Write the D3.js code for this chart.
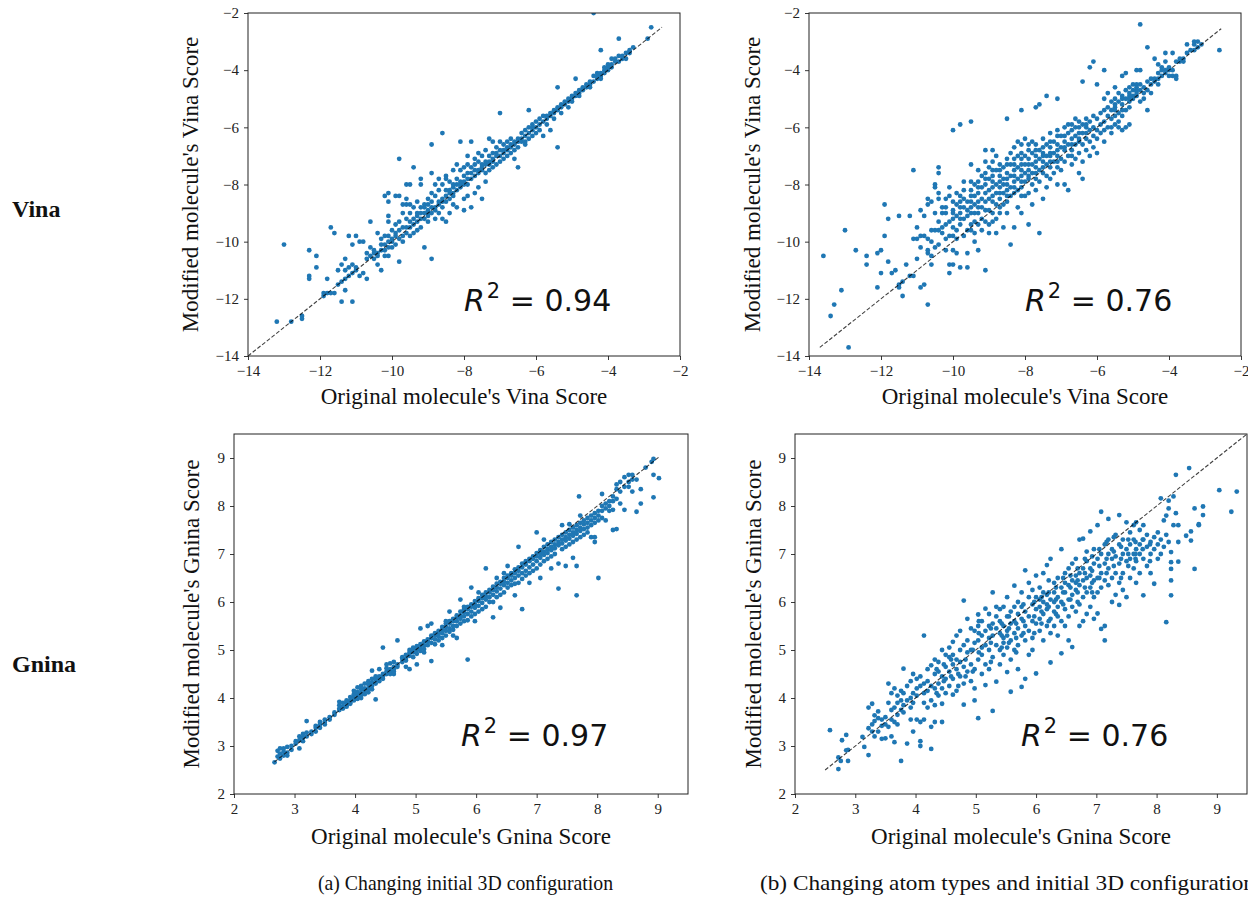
<!DOCTYPE html>
<html>
<head>
<meta charset="utf-8">
<script src="https://cdn.jsdelivr.net/npm/d3@7/dist/d3.min.js"></script>
<style>
    body { margin: 0; background: #fff; }
    svg text { fill: #111; }
</style>
</head>
<body>
<svg id="fig" width="1248" height="903"></svg>
<script>
// ---- axis ticks / labels ----
const vinaTicks = [-14, -12, -10, -8, -6, -4, -2]
const gninaTicks = [2, 3, 4, 5, 6, 7, 8, 9]
const rowLabels = ['Vina', 'Gnina']
const captions = ['(a) Changing initial 3D configuration', '(b) Changing atom types and initial 3D configuration']
const r2Values = ['0.94', '0.76', '0.97', '0.76']

// y = x reference line, [start, end]
const diagVinaA = [-14, -2.5]
const diagVinaB = [-13.7, -2.55]
const diagGninaA = [2.67, 9.03]
const diagGninaB = [2.5, 9.5]

// scatter points, each row = [original score, modified score, modified score, ...]
const vinaA = [
    [-13.2, -12.8], [-13.0, -10.1], [-12.8, -12.8], [-12.5, -12.6, -12.7],
    [-12.3, -10.3, -11.2, -11.3], [-12.1, -10.5, -10.9], [-11.9, -11.8, -11.9],
    [-11.8, -11.3, -11.8], [-11.7, -9.5, -11.8], [-11.6, -9.7, -11.8],
    [-11.5, -11.0, -11.5], [-11.4, -10.8, -12.1, -11.4], [-11.3, -10.6, -11.0, -11.7, -11.3],
    [-11.2, -9.8, -11.2, -10.9], [-11.1, -10.1, -10.8, -12.1, -11.1], [-11.0, -9.8, -11.0, -10.9],
    [-10.9, -11.2, -10.0], [-10.8, -10.0, -11.1], [-10.7, -10.6, -10.4, -11.3],
    [-10.6, -9.3, -10.5, -10.2], [-10.5, -10.3, -10.6, -10.4], [-10.4, -9.7, -10.8, -10.4, -10.5],
    [-10.3, -10.1, -11.0, -10.3, -9.9], [-10.2, -8.4, -9.8, -10.3, -10.5, -10.1],
    [-10.1, -8.3, -8.6, -9.1, -9.3, -9.8, -10.0, -10.2, -10.5], [-10.0, -9.9, -10.2, -9.6, -10.0],
    [-9.9, -8.4, -9.4, -9.8, -10.1, -9.7], [-9.8, -7.1, -8.4, -9.3, -9.6, -9.9, -10.7],
    [-9.7, -9.0, -9.5, -9.8, -10.0, -8.7], [-9.6, -8.0, -8.5, -8.7, -9.2, -9.5, -9.7],
    [-9.5, -8.0, -8.7, -9.0, -9.3, -9.5, -9.8], [-9.4, -7.4, -8.8, -9.2, -9.4, -9.7],
    [-9.3, -8.6, -9.0, -9.1, -9.3, -9.6], [-9.2, -7.8, -8.0, -8.8, -9.0, -9.2, -9.5],
    [-9.1, -8.7, -9.0, -9.2, -10.2, -8.8], [-9.0, -8.5, -8.7, -8.9, -9.0, -9.1, -9.3],
    [-8.9, -6.6, -7.6, -8.3, -8.8, -9.0, -10.6, -8.6], [-8.8, -8.0, -8.4, -8.8, -8.9, -9.2],
    [-8.7, -7.8, -8.2, -8.6, -8.7, -9.0], [-8.6, -6.2, -8.0, -8.5, -8.6, -8.8, -9.2],
    [-8.5, -7.7, -7.8, -8.2, -8.4, -8.6, -9.3], [-8.4, -7.9, -8.2, -8.3, -8.5, -9.0],
    [-8.3, -7.5, -8.0, -8.1, -8.3, -8.4, -8.7], [-8.2, -7.3, -7.8, -8.0, -8.2, -8.8],
    [-8.1, -6.5, -7.5, -7.9, -8.0, -8.1], [-8.0, -7.4, -7.7, -7.9, -8.0, -8.5, -8.9],
    [-7.9, -7.0, -7.3, -7.6, -7.8, -8.0, -8.4], [-7.8, -6.5, -7.4, -7.6, -7.8, -8.8],
    [-7.7, -7.1, -7.3, -7.5, -7.7, -8.3], [-7.6, -6.9, -7.2, -7.5, -7.6, -8.1],
    [-7.5, -7.0, -7.3, -7.4, -7.5, -8.5], [-7.4, -6.8, -7.2, -7.3, -7.6, -7.9],
    [-7.3, -6.4, -7.0, -7.2, -7.3, -7.5], [-7.2, -6.5, -6.9, -7.1, -7.2, -7.4],
    [-7.1, -6.7, -6.9, -7.0, -7.3], [-7.0, -5.5, -6.5, -6.8, -7.0, -7.2],
    [-6.9, -6.6, -6.8, -6.9, -7.1], [-6.8, -6.5, -6.7, -6.8, -7.0],
    [-6.7, -6.4, -6.6, -6.7, -6.9], [-6.6, -6.5, -6.6, -6.8, -7.1],
    [-6.5, -6.4, -6.5, -7.4, -6.7], [-6.4, -6.2, -6.4, -6.5], [-6.3, -6.1, -6.3, -6.5, -6.6],
    [-6.2, -5.4, -6.0, -6.2, -6.4], [-6.1, -5.9, -6.0, -6.1, -6.3], [-6.0, -5.8, -6.0, -6.2],
    [-5.9, -5.7, -5.9, -6.1], [-5.8, -5.6, -5.8, -6.3], [-5.7, -5.6, -5.7, -5.9],
    [-5.6, -5.5, -5.6, -6.1], [-5.5, -5.4, -5.5, -5.7], [-5.4, -4.6, -5.3, -5.4, -6.7],
    [-5.3, -5.2, -5.3, -5.5], [-5.2, -5.1, -5.2], [-5.1, -5.0, -5.1, -5.3], [-5.0, -4.9, -5.0, -5.1],
    [-4.9, -4.3, -4.8, -4.9], [-4.8, -4.7, -4.8, -4.9], [-4.7, -4.6, -4.7], [-4.6, -4.5, -4.6],
    [-4.5, -4.5, -4.4, -4.6], [-4.4, -2.0, -4.2, -4.4], [-4.3, -4.1, -4.3, -4.2],
    [-4.2, -3.3, -4.1, -4.2, -4.3], [-4.1, -3.9, -4.0, -4.1], [-4.0, -3.8, -3.9, -4.0],
    [-3.9, -3.6, -3.8, -3.9], [-3.8, -3.6, -3.7], [-3.7, -2.9, -3.5, -3.7], [-3.6, -3.5, -3.6],
    [-3.5, -3.4, -3.6], [-3.4, -3.3, -3.4], [-3.3, -3.2], [-2.9, -2.9], [-2.8, -2.5],
]

const vinaB = [
    [-13.6, -10.5], [-13.4, -12.6], [-13.3, -12.2], [-13.1, -11.7], [-13.0, -9.6], [-12.9, -13.7],
    [-12.7, -10.3], [-12.4, -10.5, -10.8], [-12.1, -10.4, -11.6], [-12.0, -10.3, -11.1],
    [-11.9, -8.7, -9.8], [-11.8, -9.2, -10.7], [-11.7, -11.1], [-11.6, -11.0],
    [-11.5, -9.1, -11.6, -11.5], [-11.4, -11.4, -11.9], [-11.3, -10.8], [-11.2, -9.1, -11.2],
    [-11.1, -7.5, -9.9, -11.2], [-11.0, -9.5, -9.9, -10.6], [-10.9, -8.9, -9.8, -10.2, -11.6],
    [-10.8, -9.1, -9.8, -11.5], [-10.7, -8.5, -8.7, -9.9, -10.3, -10.4, -12.2],
    [-10.6, -8.6, -9.6, -10.0, -10.5, -10.8], [-10.5, -8.0, -8.1, -9.0, -9.6, -10.2],
    [-10.4, -7.4, -7.6, -8.3, -8.5, -9.3, -9.6, -10.1], [-10.3, -8.8, -9.0, -9.5, -9.7],
    [-10.2, -8.5, -9.0, -9.9, -10.3, -8.8, -9.4], [-10.1, -8.1, -8.4, -9.3, -9.8, -10.8, -11.1],
    [-10.0, -6.1, -8.6, -8.9, -9.2, -9.5, -10.3, -10.8, -9.0, -9.8], [-9.9, -8.3, -8.7, -9.1, -9.6, -9.9, -10.4],
    [-9.8, -5.9, -8.4, -8.6, -9.0, -9.4, -10.9, -8.8, -9.2], [-9.7, -7.9, -8.2, -8.5, -8.8, -9.2, -9.8],
    [-9.6, -8.6, -8.9, -9.1, -9.6, -10.4, -10.9], [-9.5, -5.8, -7.3, -7.9, -8.2, -8.6, -9.0, -9.4, -8.4, -8.8, -9.6],
    [-9.4, -8.0, -8.4, -8.7, -9.0, -9.3, -9.7, -10.0], [-9.3, -7.5, -7.9, -8.3, -8.6, -9.0, -10.3, -8.1, -8.8, -9.4],
    [-9.2, -7.7, -8.1, -8.5, -8.8, -9.2, -9.6], [-9.1, -6.8, -7.2, -7.6, -8.0, -8.3, -8.9, -11.0, -7.8, -8.6, -9.3],
    [-9.0, -7.4, -7.8, -8.2, -8.5, -8.9, -9.4, -9.7], [-8.9, -6.8, -7.2, -7.7, -8.1, -8.6, -9.0, -7.5, -7.9, -8.4, -9.3],
    [-8.8, -7.0, -7.5, -8.0, -8.3, -8.7, -9.2, -9.7], [-8.7, -7.3, -7.7, -8.1, -8.5, -9.0, -7.5, -7.9, -8.3, -8.8],
    [-8.6, -7.4, -7.8, -8.0, -8.3, -8.7, -9.5], [-8.5, -5.7, -7.3, -7.6, -8.0, -8.2, -8.6, -7.1, -7.8, -8.4, -9.0],
    [-8.4, -6.9, -7.3, -7.7, -8.1, -8.4, -10.1], [-8.3, -6.7, -7.1, -7.5, -7.9, -8.3, -9.5, -7.3, -7.7, -8.1],
    [-8.2, -6.5, -7.0, -7.4, -7.8, -8.2, -8.8], [-8.1, -5.4, -6.6, -6.9, -7.3, -7.7, -8.1, -9.0, -7.1, -7.5, -7.9, -8.4],
    [-8.0, -6.4, -7.0, -7.3, -7.6, -7.9, -8.4], [-7.9, -6.8, -7.1, -7.5, -7.8, -8.3, -9.4, -6.6, -7.3, -7.7],
    [-7.8, -6.5, -6.9, -7.3, -7.6, -8.0, -8.7], [-7.7, -5.3, -6.6, -7.0, -7.4, -7.8, -8.2, -6.8, -7.2, -7.6],
    [-7.6, -5.2, -6.8, -7.1, -7.5, -7.9, -9.7], [-7.5, -6.4, -6.9, -7.2, -7.6, -8.5, -6.7, -7.0, -7.4],
    [-7.4, -4.9, -6.6, -7.0, -7.3, -7.7, -8.1], [-7.3, -6.2, -6.7, -7.0, -7.4, -7.8, -6.5, -6.9, -7.2],
    [-7.2, -6.5, -6.9, -7.2, -7.6], [-7.1, -5.0, -6.1, -6.6, -7.0, -7.4, -8.0, -6.3, -6.8, -7.2],
    [-7.0, -6.3, -6.7, -7.1, -7.5], [-6.9, -6.0, -6.5, -6.8, -7.2, -8.0, -6.3, -6.7],
    [-6.8, -5.9, -6.2, -6.6, -7.0, -8.2], [-6.7, -6.1, -6.4, -6.8, -7.3, -5.9, -6.6, -7.0],
    [-6.6, -5.7, -6.0, -6.3, -6.6, -7.1], [-6.5, -5.8, -6.2, -6.5, -6.9, -7.6, -6.0, -6.4],
    [-6.4, -4.4, -5.9, -6.2, -6.6, -7.2, -7.8], [-6.3, -5.7, -6.0, -6.4, -6.8, -5.9, -6.2],
    [-6.2, -3.9, -5.8, -6.1, -6.5, -7.0], [-6.1, -3.7, -5.6, -6.0, -6.3, -6.7],
    [-6.0, -4.5, -5.7, -6.1, -6.4, -6.9], [-5.9, -5.5, -5.9, -6.2],
    [-5.8, -4.0, -5.0, -5.4, -5.8, -6.1, -6.5], [-5.7, -4.8, -5.3, -5.6, -6.0],
    [-5.6, -5.1, -5.4, -5.7, -6.0, -6.2], [-5.5, -4.6, -5.0, -5.3, -5.6, -5.9, -5.2, -5.4],
    [-5.4, -4.8, -5.1, -5.5, -5.8, -6.0], [-5.3, -4.2, -4.9, -5.2, -5.6, -6.1, -5.0, -5.4],
    [-5.2, -4.1, -4.7, -5.0, -5.4, -6.0], [-5.1, -4.6, -4.9, -5.1, -5.3, -5.9, -4.8, -5.0],
    [-5.0, -4.5, -4.7, -4.9, -5.0], [-4.9, -4.0, -4.5, -4.7, -4.8, -4.6, -4.9],
    [-4.8, -2.4, -4.0, -4.5, -4.7, -5.1], [-4.7, -4.6, -4.8, -5.0], [-4.6, -3.2, -4.4, -4.7, -5.4],
    [-4.5, -4.3, -4.5, -4.8], [-4.4, -3.6, -4.3, -4.4], [-4.3, -3.8, -4.1, -4.3, -4.5],
    [-4.2, -3.9, -4.0, -4.2], [-4.1, -3.4, -3.7, -4.0, -4.1], [-4.0, -3.9, -4.0, -4.2],
    [-3.9, -3.4, -4.0, -4.2], [-3.8, -3.7, -4.2, -4.3], [-3.7, -3.6, -3.7], [-3.6, -3.6, -3.7],
    [-3.5, -3.1, -3.4], [-3.4, -3.3], [-3.3, -3.0, -3.1, -3.3], [-3.2, -3.0, -3.2], [-3.1, -3.1],
    [-2.6, -3.3],
]

const gninaA = [
    [2.67, 2.66], [2.72, 2.78, 2.9], [2.76, 2.84, 2.95, 2.74], [2.82, 2.80, 2.88, 2.95],
    [2.88, 2.86, 2.98, 2.80], [2.95, 2.92, 3.0], [3.02, 3.05, 3.1], [3.08, 2.95, 3.2, 3.12],
    [3.14, 3.18, 3.25, 3.1], [3.2, 3.52, 3.2, 3.28], [3.28, 3.3, 3.25], [3.35, 3.38, 3.42, 3.3],
    [3.42, 3.45, 3.5, 3.38], [3.5, 3.5, 3.55, 3.45], [3.58, 3.55, 3.6], [3.66, 3.65, 3.7],
    [3.74, 3.78, 3.85, 3.92, 3.75], [3.8, 3.82, 3.9, 3.78], [3.86, 3.9, 3.95, 3.85, 3.82],
    [3.92, 3.95, 4.02, 3.9, 3.88], [3.98, 4.0, 4.08, 4.15, 3.95], [4.04, 4.05, 4.12, 4.22, 3.98, 4.1],
    [4.1, 4.1, 4.18, 4.25, 4.05, 4.0], [4.16, 4.15, 4.2, 4.3, 4.08], [4.22, 4.2, 4.28, 4.12, 4.35],
    [4.28, 4.25, 4.32, 4.4, 4.18, 4.57], [4.34, 4.3, 4.38, 3.97, 4.45], [4.4, 4.4, 4.45, 4.35, 4.6],
    [4.46, 4.45, 5.05, 4.5, 4.4], [4.52, 4.5, 4.55, 4.62, 4.7], [4.58, 4.55, 4.6, 4.72, 4.5],
    [4.64, 4.6, 4.65, 4.75, 4.55, 4.5], [4.7, 4.65, 5.2, 4.7], [4.78, 4.75, 4.82, 4.85],
    [4.84, 4.82, 4.9, 4.78, 4.65], [4.9, 4.88, 4.95, 5.0, 4.6], [4.96, 4.95, 5.0, 5.05, 4.85],
    [5.02, 5.0, 5.08, 4.92, 4.7], [5.08, 5.05, 5.12, 4.98, 5.45], [5.14, 5.1, 5.18, 5.02, 4.95],
    [5.2, 5.18, 5.22, 5.1, 5.5], [5.26, 5.25, 5.3, 5.15, 5.55, 4.77], [5.32, 5.3, 5.35, 5.22, 5.12],
    [5.38, 5.35, 5.4, 5.28, 5.2], [5.44, 5.42, 5.48, 5.35, 5.25, 5.1], [5.5, 5.48, 5.55, 5.4, 5.3, 5.6],
    [5.56, 5.55, 5.6, 5.45, 5.38, 5.8], [5.62, 5.6, 5.65, 5.5, 5.42, 5.3], [5.68, 5.68, 5.72, 5.6, 5.5, 5.25],
    [5.74, 5.72, 5.8, 5.65, 5.55, 6.05], [5.8, 5.78, 5.85, 5.7, 5.6, 5.9], [5.86, 5.85, 5.9, 5.75, 5.62, 4.8],
    [5.92, 5.9, 5.95, 5.8, 5.7, 6.3], [5.98, 5.95, 6.02, 5.88, 5.75, 5.6], [6.04, 6.02, 6.08, 5.92, 5.8, 6.2],
    [6.1, 6.08, 6.15, 5.98, 5.85], [6.16, 6.12, 6.2, 6.05, 5.9, 6.7], [6.22, 6.2, 6.25, 6.1, 6.0],
    [6.28, 6.25, 6.32, 6.15, 5.68, 6.0], [6.34, 6.3, 6.38, 6.22, 6.1, 6.5], [6.4, 6.38, 6.42, 6.28, 6.15, 5.88],
    [6.46, 6.42, 6.5, 6.35, 6.2, 6.6], [6.52, 6.5, 6.55, 6.4, 6.3, 6.75], [6.58, 6.55, 6.6, 6.45, 6.35],
    [6.64, 6.6, 6.68, 6.5, 6.38, 6.14], [6.7, 6.65, 6.72, 6.55, 6.4, 7.15], [6.76, 6.72, 6.8, 6.6, 6.48, 5.85],
    [6.82, 6.78, 6.85, 6.65, 6.55], [6.88, 6.85, 6.9, 6.72, 6.6, 6.4], [6.94, 6.9, 6.95, 6.78, 6.65],
    [7.0, 6.95, 7.02, 6.85, 6.7, 7.45], [7.06, 7.0, 7.08, 6.92, 6.78, 6.5], [7.12, 7.05, 7.15, 6.98, 6.85, 7.3],
    [7.18, 7.1, 7.2, 7.02, 6.9], [7.24, 7.15, 7.25, 7.08, 6.95, 6.7], [7.3, 7.2, 7.3, 7.12, 7.0],
    [7.36, 7.25, 7.35, 7.18, 6.8, 6.28], [7.42, 7.3, 7.4, 7.22, 7.1, 7.6], [7.48, 7.35, 7.45, 7.28, 7.15, 6.75],
    [7.54, 7.4, 7.5, 7.32, 7.2, 7.62], [7.6, 7.45, 7.55, 7.38, 7.25, 6.92], [7.66, 7.5, 7.6, 7.42, 7.3, 6.75, 6.14],
    [7.72, 7.55, 7.65, 7.48, 7.35, 7.8], [7.7, 8.2], [7.78, 7.62, 7.7, 7.52, 7.4], [7.84, 7.65, 7.75, 7.55, 7.45],
    [7.9, 7.7, 7.8, 7.6, 7.35], [7.96, 7.75, 7.85, 7.65, 7.35, 7.25], [8.02, 7.8, 7.9, 7.7, 6.5],
    [8.08, 7.9, 8.0, 8.25, 7.75], [8.14, 7.95, 8.05, 7.7], [8.2, 8.0, 8.1, 7.9], [8.26, 8.1, 8.2, 7.5, 7.92],
    [8.32, 8.15, 8.35, 8.45, 7.52], [8.38, 8.3, 8.5, 8.05], [8.45, 8.4, 8.6, 7.92], [8.52, 8.5, 8.65, 8.4],
    [8.58, 8.55, 8.65, 8.3], [8.65, 7.88, 8.55], [8.72, 8.35, 8.05], [8.8, 8.8], [8.9, 8.92],
    [8.93, 8.98, 8.65, 8.18], [9.02, 8.58],
]

const gninaB = [
    [2.58, 3.33], [2.72, 2.76, 2.52], [2.76, 2.69], [2.78, 3.12], [2.85, 3.23, 2.91], [2.88, 2.69, 2.92],
    [3.12, 3.19], [3.15, 2.98], [3.22, 2.81, 3.37, 3.8], [3.28, 3.45, 3.3, 3.88], [3.32, 3.52, 3.64, 3.2],
    [3.38, 3.72, 3.3, 3.58], [3.44, 3.42, 3.55, 3.15], [3.5, 3.16, 3.45, 3.6], [3.55, 4.3, 3.4, 3.9],
    [3.6, 3.55, 3.75, 3.2, 4.1], [3.65, 3.5, 3.08, 3.8, 4.2], [3.7, 3.9, 4.05, 3.45, 3.65],
    [3.76, 2.69, 3.75, 4.15, 3.95], [3.8, 4.61, 4.1, 3.7, 3.85], [3.86, 3.05, 3.95, 4.25],
    [3.92, 3.55, 3.8, 4.35, 4.0], [3.96, 3.3, 4.5, 4.1, 3.9], [4.02, 4.4, 4.2, 3.55, 4.05],
    [4.08, 3.0, 3.1, 4.25, 3.5, 4.45], [4.14, 5.3, 4.3, 3.9, 3.55, 4.1], [4.2, 4.15, 4.6, 4.35, 3.8],
    [4.26, 2.94, 3.4, 4.25, 4.68, 3.95], [4.32, 4.5, 4.8, 4.2, 3.85, 3.5], [4.38, 4.55, 4.3, 4.05, 4.75],
    [4.44, 5.0, 4.45, 4.2, 3.88, 3.5], [4.5, 4.65, 4.4, 4.1, 4.9], [4.56, 4.55, 4.85, 4.25, 5.05],
    [4.62, 5.17, 4.7, 4.4, 4.07, 4.9], [4.68, 4.6, 5.3, 4.15, 4.8], [4.74, 4.75, 5.0, 4.45, 5.4],
    [4.8, 6.03, 5.1, 4.3, 4.65, 3.86], [4.86, 5.65, 4.95, 4.55, 5.2], [4.92, 5.45, 5.0, 4.7, 4.35],
    [4.98, 5.4, 4.6, 5.15, 4.2, 3.95], [5.04, 5.74, 5.2, 4.8, 3.58, 5.5], [5.1, 5.3, 4.9, 4.5, 5.6, 5.05],
    [5.16, 5.86, 5.1, 4.7, 4.27, 5.4], [5.22, 5.5, 5.0, 5.25, 4.6, 5.75], [5.28, 6.2, 5.3, 4.85, 5.55, 3.73],
    [5.34, 5.45, 5.1, 4.34, 5.7, 5.9], [5.4, 5.35, 5.6, 5.0, 4.7, 5.85], [5.46, 5.25, 5.5, 5.9, 4.9, 5.15],
    [5.52, 4.54, 5.4, 5.7, 5.05, 6.1, 5.3], [5.58, 5.2, 5.55, 5.8, 4.8, 4.13], [5.64, 6.34, 5.35, 5.6, 5.0, 5.9],
    [5.7, 5.1, 5.45, 5.75, 6.0, 4.6], [5.76, 4.23, 5.3, 5.65, 5.9, 6.2], [5.82, 6.66, 4.4, 5.5, 5.8, 5.2],
    [5.88, 6.1, 5.7, 5.4, 6.4, 4.9], [5.94, 5.25, 5.6, 5.95, 6.25, 5.0], [6.0, 6.55, 5.85, 5.55, 4.51, 6.1],
    [6.06, 5.9, 5.4, 6.05, 6.3, 5.65], [6.12, 6.6, 5.75, 6.0, 5.2, 6.2], [6.18, 6.77, 5.5, 5.85, 6.15, 5.95],
    [6.24, 6.9, 4.74, 5.65, 6.05, 5.35], [6.3, 6.4, 6.0, 5.8, 5.5, 6.2], [6.36, 6.5, 6.1, 5.9, 5.3, 5.7],
    [6.42, 7.1, 6.3, 6.0, 4.93, 5.6], [6.48, 6.6, 6.2, 5.85, 5.5, 6.4], [6.54, 6.7, 6.35, 6.05, 5.7, 5.2],
    [6.6, 6.45, 6.15, 5.06, 6.8, 5.9], [6.66, 6.9, 6.55, 6.25, 5.8, 6.4], [6.72, 7.3, 6.6, 6.35, 5.95, 5.5],
    [6.78, 7.32, 6.7, 6.45, 6.1, 5.6], [6.84, 6.85, 6.5, 6.2, 5.75, 7.05], [6.9, 7.47, 6.7, 6.3, 5.9, 6.55],
    [6.96, 6.8, 6.45, 6.1, 7.1, 5.65], [7.02, 7.6, 6.9, 6.5, 5.76, 6.2], [7.08, 7.88, 7.0, 6.6, 6.3, 5.44],
    [7.14, 5.2, 6.8, 7.2, 6.45, 5.5], [7.2, 7.73, 7.0, 6.7, 6.35, 7.3], [7.26, 6.9, 7.1, 6.5, 6.0],
    [7.32, 7.4, 6.95, 6.6, 6.15], [7.38, 7.81, 5.94, 7.2, 6.8, 6.4], [7.44, 7.0, 7.3, 6.6, 6.25],
    [7.5, 7.66, 6.1, 7.1, 6.85], [7.56, 7.2, 6.9, 7.45, 6.5], [7.62, 7.6, 7.0, 6.7, 7.3],
    [7.66, 7.66, 7.1, 6.85, 6.4], [7.72, 7.5, 7.2, 6.6, 7.0], [7.78, 6.14, 7.3, 6.9, 7.6],
    [7.84, 7.15, 6.75, 7.4], [7.9, 7.25, 7.0, 6.6], [7.96, 7.35, 6.38, 7.1], [8.02, 7.2, 6.9, 7.45],
    [8.07, 8.16, 7.3, 7.0], [8.12, 7.7, 7.15], [8.16, 5.58, 7.4, 7.8], [8.2, 8.11, 7.95, 7.25],
    [8.24, 7.04, 6.83, 6.69, 6.45, 6.14], [8.28, 7.6, 8.2], [8.32, 8.65, 7.85], [8.36, 7.25, 6.84, 7.6],
    [8.49, 7.38], [8.54, 8.79], [8.57, 7.47, 7.28], [8.63, 6.69, 7.95], [8.7, 7.6, 7.62],
    [8.77, 7.99, 7.81], [9.04, 8.33], [9.24, 7.88], [9.33, 8.3],
    // dense core
    [4.35, 4.6, 4.1], [4.47, 4.35, 4.7], [4.59, 4.45, 4.8], [4.71, 4.5, 4.25], [4.83, 4.8, 4.45],
    [4.95, 4.55, 5.0], [5.05, 5.35, 4.95, 5.6], [5.25, 5.15, 5.45, 4.75], [5.43, 5.3, 5.05, 5.55],
    [5.55, 5.45, 5.15, 5.7], [5.67, 5.55, 5.25, 4.95], [5.79, 5.6, 5.95, 5.35], [5.97, 5.7, 6.0, 5.35],
    [6.09, 5.8, 6.1, 5.55], [6.21, 5.9, 6.2, 5.6, 6.45], [6.33, 6.05, 5.75, 6.3], [6.45, 6.2, 5.95, 6.5],
    [6.57, 6.3, 6.05, 6.55], [6.69, 6.45, 6.2, 6.7, 6.0], [6.81, 6.6, 6.3, 6.9], [6.93, 6.65, 6.4, 6.95, 6.2],
    [7.05, 6.75, 6.5, 7.1], [7.17, 6.9, 6.6, 7.25], [7.29, 7.05, 6.75, 7.35], [7.41, 7.15, 6.9, 6.5],
    [7.53, 7.3, 7.0, 6.75], [7.65, 7.25, 7.0, 6.9], [7.77, 7.1, 7.3], [7.89, 7.2, 6.85],
]

const toPoints = rows => rows.flatMap(r => r.slice(1).map(y => [r[0], y]))

// ---- layout ----
const svg = d3.select('#fig')
const serif = '"Liberation Serif", "Times New Roman", serif'

const panels = [
    { rows: vinaA, ticks: vinaTicks, dom: [-14, -2], diag: diagVinaA, r2: r2Values[0], name: 'Vina',
        left: 248, right: 680, top: 13, bottom: 356, ylabOff: 50, xlabY: 404 },
    { rows: vinaB, ticks: vinaTicks, dom: [-14, -2], diag: diagVinaB, r2: r2Values[1], name: 'Vina',
        left: 809, right: 1241, top: 13, bottom: 356, ylabOff: 49, xlabY: 404 },
    { rows: gninaA, ticks: gninaTicks, dom: [2, 9.5], diag: diagGninaA, r2: r2Values[2], name: 'Gnina',
        left: 234, right: 688, top: 434, bottom: 794, ylabOff: 35, xlabY: 844 },
    { rows: gninaB, ticks: gninaTicks, dom: [2, 9.5], diag: diagGninaB, r2: r2Values[3], name: 'Gnina',
        left: 795, right: 1247, top: 434, bottom: 794, ylabOff: 34, xlabY: 844 },
]

panels.forEach((p, i) => {
    const x = d3.scaleLinear().domain(p.dom).range([p.left, p.right])
    const y = d3.scaleLinear().domain(p.dom).range([p.bottom, p.top])
    const g = svg.append('g')

    const clipId = `clip${i}`
    g.append('clipPath').attr('id', clipId)
        .append('rect')
        .attr('x', p.left).attr('y', p.top)
        .attr('width', p.right - p.left).attr('height', p.bottom - p.top)

    // 点
    g.append('g').attr('clip-path', `url(#${clipId})`)
        .selectAll('circle')
        .data(toPoints(p.rows))
        .join('circle')
        .attr('cx', d => x(d[0]))
        .attr('cy', d => y(d[1]))
        .attr('r', 2.4)
        .attr('fill', '#1f77b4')

    // 对角虚线
    g.append('line')
        .attr('clip-path', `url(#${clipId})`)
        .attr('x1', x(p.diag[0])).attr('y1', y(p.diag[0]))
        .attr('x2', x(p.diag[1])).attr('y2', y(p.diag[1]))
        .attr('stroke', '#000').attr('stroke-opacity', 0.75)
        .attr('stroke-width', 1.1).attr('stroke-dasharray', '4,2')

    // 坐标轴
    const fmt = d3.format('d')
    const xAxis = g.append('g')
        .attr('transform', `translate(0,${p.bottom})`)
        .call(d3.axisBottom(x).tickValues(p.ticks).tickFormat(fmt).tickSize(4).tickPadding(5))
    const yAxis = g.append('g')
        .attr('transform', `translate(${p.left},0)`)
        .call(d3.axisLeft(y).tickValues(p.ticks).tickFormat(fmt).tickSize(4).tickPadding(5))
    ;[xAxis, yAxis].forEach((a) => {
        a.select('.domain').remove()
        a.selectAll('line').attr('stroke', '#222').attr('stroke-width', 0.9)
        a.selectAll('text').attr('font-family', serif).attr('font-size', 15).style('fill', '#222')
    })

    // 边框
    g.append('rect')
        .attr('x', p.left).attr('y', p.top)
        .attr('width', p.right - p.left).attr('height', p.bottom - p.top)
        .attr('fill', 'none').attr('stroke', '#222').attr('stroke-width', 1)

    // 轴标题
    g.append('text')
        .attr('x', (p.left + p.right) / 2).attr('y', p.xlabY)
        .attr('text-anchor', 'middle')
        .attr('font-family', serif).attr('font-size', 23)
        .text(`Original molecule's ${p.name} Score`)
    g.append('text')
        .attr('transform', `translate(${p.left - p.ylabOff},${(p.top + p.bottom) / 2}) rotate(-90)`)
        .attr('text-anchor', 'middle')
        .attr('font-family', serif).attr('font-size', 23)
        .text(`Modified molecule's ${p.name} Score`)

    // R^2
    const h = p.bottom - p.top
    const t = g.append('text')
        .attr('x', (p.left + p.right) / 2)
        .attr('y', p.top + h * 0.868)
        .attr('font-family', '"DejaVu Sans", sans-serif')
        .attr('font-size', 30)
    t.append('tspan').attr('font-style', 'italic').text('R')
    t.append('tspan').attr('font-size', 21).attr('dx', 2).attr('dy', -13).text('2')
    t.append('tspan').attr('dy', 13).text(` = ${p.r2}`)
})

// 行标题
svg.selectAll('.row-label')
    .data(rowLabels)
    .join('text')
    .attr('class', 'row-label')
    .attr('x', 12)
    .attr('y', (d, i) => [217, 672][i])
    .attr('font-family', serif)
    .attr('font-weight', 'bold')
    .attr('font-size', 24)
    .text(d => d)

// 子图说明
svg.selectAll('.caption')
    .data(captions)
    .join('text')
    .attr('class', 'caption')
    .attr('x', (d, i) => [318, 760][i])
    .attr('y', 890)
    .attr('font-family', serif)
    .attr('font-size', 22)
    .attr('textLength', (d, i) => [295, 495][i])
    .attr('lengthAdjust', 'spacingAndGlyphs')
    .text(d => d)
</script>
</body>
</html>
